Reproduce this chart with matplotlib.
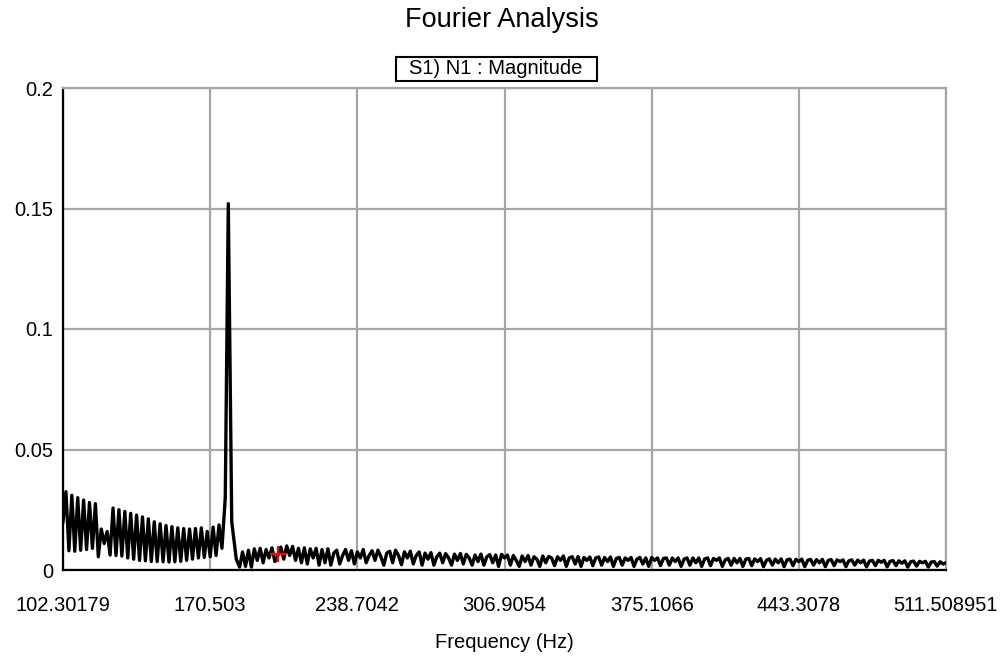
import numpy as np
import matplotlib
matplotlib.use("Agg")
import matplotlib.pyplot as plt
from matplotlib.patches import Rectangle

plt.rcParams['font.family'] = ['Liberation Sans', 'DejaVu Sans']

# frequency axis of the spectrum (Hz), 300 steps across the view
freq_start = 102.30179
freq_stop = 511.508951
n_steps = 300

# magnitude, left of the peak (grid steps 0..54)
mag_low = [
    0.0200, 0.0325, 0.0080, 0.0310, 0.0078, 0.0300, 0.0082, 0.0290, 0.0085, 0.0280,
    0.0090, 0.0275, 0.0055, 0.0170, 0.0110, 0.0160, 0.0062, 0.0257, 0.0060, 0.0250,
    0.0058, 0.0243, 0.0050, 0.0235, 0.0045, 0.0228, 0.0040, 0.0220, 0.0038, 0.0212,
    0.0035, 0.0200, 0.0035, 0.0192, 0.0034, 0.0185, 0.0033, 0.0180, 0.0034, 0.0175,
    0.0036, 0.0172, 0.0040, 0.0170, 0.0045, 0.0172, 0.0050, 0.0175, 0.0052, 0.0160,
    0.0055, 0.0178, 0.0060, 0.0187, 0.0090,
]
# the peak, sampled more finely
peak_freq = [177.5, 178.9, 179.7, 180.5, 182.6]
peak_mag = [0.0300, 0.1520, 0.0860, 0.0200, 0.0045]
# right of the peak (grid steps 60..300)
mag_high = [
    0.0012, 0.0075, 0.0015, 0.0082, 0.0012, 0.0088, 0.0040, 0.0090, 0.0030, 0.0085,
    0.0050, 0.0092, 0.0035, 0.0060, 0.0095, 0.0045, 0.0100, 0.0060, 0.0098, 0.0040,
    0.0090, 0.0030, 0.0092, 0.0025, 0.0088, 0.0050, 0.0090, 0.0020, 0.0085, 0.0030,
    0.0088, 0.0020, 0.0070, 0.0082, 0.0025, 0.0060, 0.0085, 0.0040, 0.0080, 0.0025,
    0.0075, 0.0050, 0.0085, 0.0030, 0.0060, 0.0080, 0.0040, 0.0082, 0.0055, 0.0020,
    0.0070, 0.0078, 0.0030, 0.0082, 0.0060, 0.0022, 0.0075, 0.0050, 0.0078, 0.0025,
    0.0060, 0.0075, 0.0020, 0.0070, 0.0045, 0.0072, 0.0020, 0.0055, 0.0070, 0.0030,
    0.0068, 0.0050, 0.0020, 0.0066, 0.0040, 0.0068, 0.0025, 0.0065, 0.0050, 0.0020,
    0.0062, 0.0035, 0.0066, 0.0020, 0.0055, 0.0064, 0.0030, 0.0062, 0.0015, 0.0065,
    0.0050, 0.0062, 0.0020, 0.0060, 0.0040, 0.0015, 0.0058, 0.0035, 0.0060, 0.0020,
    0.0055, 0.0045, 0.0015, 0.0058, 0.0030, 0.0056, 0.0050, 0.0018, 0.0055, 0.0040,
    0.0058, 0.0015, 0.0050, 0.0055, 0.0025, 0.0056, 0.0015, 0.0052, 0.0040, 0.0054,
    0.0018, 0.0050, 0.0054, 0.0020, 0.0052, 0.0035, 0.0054, 0.0015, 0.0048, 0.0052,
    0.0020, 0.0050, 0.0040, 0.0052, 0.0015, 0.0045, 0.0052, 0.0025, 0.0050, 0.0015,
    0.0052, 0.0040, 0.0050, 0.0018, 0.0048, 0.0050, 0.0020, 0.0050, 0.0035, 0.0050,
    0.0015, 0.0045, 0.0050, 0.0020, 0.0050, 0.0030, 0.0050, 0.0015, 0.0046, 0.0050,
    0.0018, 0.0048, 0.0040, 0.0050, 0.0015, 0.0042, 0.0048, 0.0020, 0.0048, 0.0030,
    0.0048, 0.0015, 0.0045, 0.0048, 0.0018, 0.0046, 0.0035, 0.0047, 0.0014, 0.0040,
    0.0046, 0.0020, 0.0045, 0.0030, 0.0046, 0.0014, 0.0042, 0.0045, 0.0018, 0.0044,
    0.0035, 0.0045, 0.0014, 0.0040, 0.0044, 0.0020, 0.0043, 0.0030, 0.0044, 0.0014,
    0.0040, 0.0043, 0.0018, 0.0042, 0.0035, 0.0042, 0.0014, 0.0038, 0.0042, 0.0020,
    0.0041, 0.0030, 0.0041, 0.0013, 0.0037, 0.0040, 0.0018, 0.0040, 0.0032, 0.0040,
    0.0013, 0.0036, 0.0039, 0.0018, 0.0038, 0.0028, 0.0038, 0.0012, 0.0034, 0.0037,
    0.0016, 0.0036, 0.0030, 0.0036, 0.0012, 0.0033, 0.0035, 0.0016, 0.0034, 0.0025,
    0.0030,
]

# cursor marker
cursor_freq = 201.9
cursor_mag = 0.0066

x_ticks = [102.30179, 170.503, 238.7042, 306.9054, 375.1066, 443.3078, 511.508951]
x_labels = ["102.30179", "170.503", "238.7042", "306.9054", "375.1066", "443.3078", "511.508951"]
y_ticks = [0, 0.05, 0.1, 0.15, 0.2]
y_labels = ["0", "0.05", "0.1", "0.15", "0.2"]

step = (freq_stop - freq_start) / n_steps
freq_low = freq_start + step * np.arange(len(mag_low))
freq_high = freq_stop - step * np.arange(len(mag_high))[::-1]
freq = np.concatenate([freq_low, peak_freq, freq_high])
magnitude = np.concatenate([mag_low, peak_mag, mag_high])

W, H = 1004, 661
fig = plt.figure(figsize=(W / 100, H / 100), dpi=100)
ax = fig.add_axes([63 / W, 1 - 570 / H, 883 / W, 482 / H])

grid_col = '#a6a6a6'
ax.plot(freq, magnitude, color='black', linewidth=2.4, zorder=3)
ax.plot([cursor_freq], [cursor_mag], marker='+', color='red', markersize=11,
        markeredgewidth=1.6, linestyle='none', zorder=4)

ax.set_xlim(freq_start, freq_stop)
ax.set_ylim(0, 0.2)
ax.set_xticks(x_ticks)
ax.set_xticklabels(x_labels)
ax.set_yticks(y_ticks)
ax.set_yticklabels(y_labels)
ax.tick_params(axis='both', length=0, labelsize=14.5)
ax.tick_params(axis='x', pad=19)
ax.tick_params(axis='y', pad=7)
ax.grid(True, color=grid_col, linewidth=1.6, zorder=1)
ax.set_axisbelow(True)

for side in ['top', 'right']:
    ax.spines[side].set_color(grid_col)
    ax.spines[side].set_linewidth(1.6)
for side in ['left', 'bottom']:
    ax.spines[side].set_color('black')
    ax.spines[side].set_linewidth(1.6)

ax.set_xlabel("Frequency (Hz)", fontsize=14.5, labelpad=13)

fig.text(502 / W, 1 - 20 / H, "Fourier Analysis", fontsize=19.5,
         ha='center', va='center')

# series label box
fig.patches.append(Rectangle((396 / W, 1 - 81 / H), 201 / W, 24 / H,
                             transform=fig.transFigure, facecolor='white',
                             edgecolor='black', linewidth=1.5))
fig.text(496 / W, 1 - 69 / H, "S1) N1 : Magnitude", fontsize=14.5,
         ha='center', va='center')

fig.savefig("out.png", dpi=100)
